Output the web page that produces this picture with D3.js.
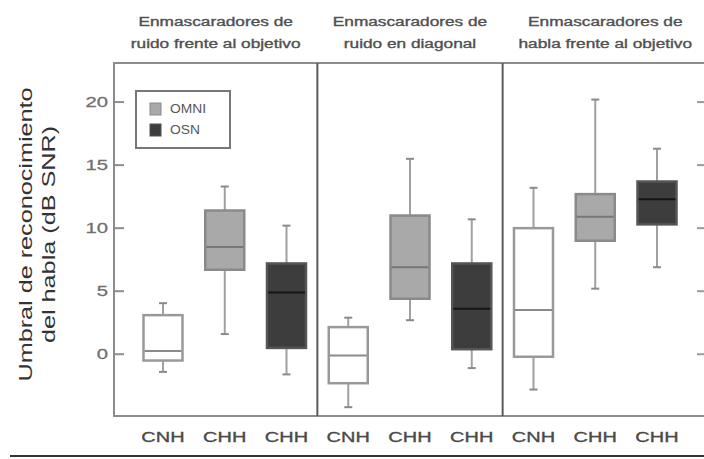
<!DOCTYPE html>
<html lang="es">
<head>
<meta charset="UTF-8">
<title>Umbral de reconocimiento del habla</title>
<script src="https://d3js.org/d3.v7.min.js"></script>
<style>
    html, body { margin: 0; padding: 0; background: #fff; }
    svg { display: block; font-family: "Liberation Sans", Arial, sans-serif; }
</style>
</head>
<body>
<div id="chart"></div>
<script>
// panel titles (two lines each)
const panelTitles = [
    ["Enmascaradores de", "ruido frente al objetivo"],
    ["Enmascaradores de", "ruido en diagonal"],
    ["Enmascaradores de", "habla frente al objetivo"]
];
// one box per category, three per panel
const categories = ["CNH", "CHH", "CHH", "CNH", "CHH", "CHH", "CNH", "CHH", "CHH"];
const groups = ["CNH", "OMNI", "OSN", "CNH", "OMNI", "OSN", "CNH", "OMNI", "OSN"];
const whiskerLow = [-1.4, 1.6, -1.6, -4.2, 2.7, -1.1, -2.8, 5.2, 6.9];
const q1 = [-0.5, 6.7, 0.5, -2.3, 4.4, 0.4, -0.2, 9.0, 10.3];
const median = [0.25, 8.5, 4.9, -0.1, 6.9, 3.6, 3.5, 10.9, 12.3];
const q3 = [3.1, 11.4, 7.2, 2.15, 11.0, 7.2, 10.0, 12.7, 13.7];
const whiskerHigh = [4.05, 13.3, 10.2, 2.9, 15.5, 10.7, 13.2, 20.2, 16.3];
const yTicks = [0, 5, 10, 15, 20];
const legendItems = ["OMNI", "OSN"];

const W = 704, H = 459;
const pLeft = 114, pRight = 708, pTop = 63, pBottom = 416;
const boxW = 39;

const fill = { CNH: "#fff", OMNI: "#a9a9a9", OSN: "#3d3d3d" };
const edge = { CNH: "#999", OMNI: "#8a8a8a", OSN: "#555" };
const medColor = { CNH: "#8a8a8a", OMNI: "#777", OSN: "#151515" };

const ids = categories.map((c, i) => i);
const data = ids.map(i => ({
    i: i, cat: categories[i], grp: groups[i],
    lo: whiskerLow[i], q1: q1[i], med: median[i], q3: q3[i], hi: whiskerHigh[i]
}));

const x = d3.scalePoint().domain(ids).range([pLeft + 49, pLeft + 543]);
const y = d3.scaleLinear().domain([-4.9, 23.1]).range([pBottom, pTop]);

const svg = d3.select("#chart").append("svg")
    .attr("width", W)
    .attr("height", H);

// widen text like the original's broad face
function stretch(sel, k) {
    sel.each(function () {
        const len = this.getComputedTextLength();
        d3.select(this).attr("textLength", len * k).attr("lengthAdjust", "spacingAndGlyphs");
    });
}

// frame
svg.append("rect")
    .attr("x", pLeft).attr("y", pTop)
    .attr("width", pRight - pLeft).attr("height", pBottom - pTop)
    .attr("fill", "none").attr("stroke", "#8c8c8c").attr("stroke-width", 2);

// panel dividers
const splits = [(x(2) + x(3)) / 2, (x(5) + x(6)) / 2];
svg.selectAll("line.split")
    .data(splits)
    .enter().append("line")
    .attr("class", "split")
    .attr("x1", d => d).attr("x2", d => d)
    .attr("y1", pTop).attr("y2", pBottom)
    .attr("stroke", "#5a5a5a").attr("stroke-width", 2);

// axis ticks (inward) and labels
svg.selectAll("line.ytick")
    .data(yTicks)
    .enter().append("line")
    .attr("x1", pLeft).attr("x2", pLeft + 10)
    .attr("y1", d => y(d)).attr("y2", d => y(d))
    .attr("stroke", "#8c8c8c").attr("stroke-width", 2);

svg.selectAll("line.ytickR")
    .data(yTicks)
    .enter().append("line")
    .attr("x1", pRight - 11).attr("x2", pRight)
    .attr("y1", d => y(d)).attr("y2", d => y(d))
    .attr("stroke", "#9a9a9a").attr("stroke-width", 2);

svg.selectAll("text.ylab")
    .data(yTicks)
    .enter().append("text")
    .attr("x", pLeft - 6).attr("y", d => y(d))
    .attr("dy", "0.35em")
    .attr("text-anchor", "end")
    .attr("font-size", 15)
    .attr("fill", "#707070")
    .attr("stroke", "#707070").attr("stroke-width", 0.3)
    .text(d => d)
    .call(stretch, 1.35);

// y axis title
const yTitle = svg.append("g")
    .attr("transform", `translate(0,${(pTop + pBottom) / 2 - 5}) rotate(-90)`);
yTitle.selectAll("text")
    .data(["Umbral de reconocimiento", "del habla (dB SNR)"])
    .enter().append("text")
    .attr("x", 0)
    .attr("y", (d, i) => 32 + i * 23)
    .attr("text-anchor", "middle")
    .attr("font-size", 18)
    .attr("fill", "#333")
    .text(d => d)
    .call(stretch, 1.4);

// panel titles
const panelCenters = [(pLeft + splits[0]) / 2, (splits[0] + splits[1]) / 2, (splits[1] + pRight) / 2];
panelTitles.forEach((lines, p) => {
    svg.selectAll(null)
        .data(lines)
        .enter().append("text")
        .attr("x", panelCenters[p])
        .attr("y", (d, i) => 26 + i * 22)
        .attr("text-anchor", "middle")
        .attr("font-size", 12.5)
        .attr("fill", "#505050")
        .attr("stroke", "#505050").attr("stroke-width", 0.35)
        .text(d => d)
        .call(stretch, 1.38);
});

// boxes
const box = svg.selectAll("g.box")
    .data(data)
    .enter().append("g")
    .attr("class", "box");

box.append("line")
    .attr("x1", d => x(d.i)).attr("x2", d => x(d.i))
    .attr("y1", d => y(d.hi)).attr("y2", d => y(d.lo))
    .attr("stroke", "#a0a0a0").attr("stroke-width", 2);

box.selectAll("line.cap")
    .data(d => [d.lo, d.hi].map(v => ({ v: v, i: d.i })))
    .enter().append("line")
    .attr("class", "cap")
    .attr("x1", d => x(d.i) - 4).attr("x2", d => x(d.i) + 4)
    .attr("y1", d => y(d.v)).attr("y2", d => y(d.v))
    .attr("stroke", "#8a8a8a").attr("stroke-width", 2);

box.append("rect")
    .attr("x", d => x(d.i) - boxW / 2)
    .attr("y", d => y(d.q3))
    .attr("width", boxW)
    .attr("height", d => y(d.q1) - y(d.q3))
    .attr("fill", d => fill[d.grp])
    .attr("stroke", d => edge[d.grp])
    .attr("stroke-width", 2.5);

box.append("line")
    .attr("x1", d => x(d.i) - boxW / 2 + 1).attr("x2", d => x(d.i) + boxW / 2 - 1)
    .attr("y1", d => y(d.med)).attr("y2", d => y(d.med))
    .attr("stroke", d => medColor[d.grp]).attr("stroke-width", 2);

// category labels
svg.selectAll("text.cat")
    .data(data)
    .enter().append("text")
    .attr("class", "cat")
    .attr("x", d => x(d.i))
    .attr("y", pBottom + 26)
    .attr("text-anchor", "middle")
    .attr("font-size", 15)
    .attr("fill", "#4a4a4a")
    .attr("stroke", "#4a4a4a").attr("stroke-width", 0.35)
    .text(d => d.cat)
    .call(stretch, 1.33);

// legend
const lg = svg.append("g").attr("transform", "translate(136,91)");
lg.append("rect")
    .attr("width", 94).attr("height", 57)
    .attr("fill", "#fff").attr("stroke", "#777").attr("stroke-width", 2);
const li = lg.selectAll("g.item")
    .data(legendItems)
    .enter().append("g")
    .attr("transform", (d, i) => `translate(14,${12 + i * 21})`);
li.append("rect")
    .attr("width", 11).attr("height", 12)
    .attr("fill", d => fill[d])
    .attr("stroke", d => edge[d]).attr("stroke-width", 1);
li.append("text")
    .attr("x", 20).attr("y", 6)
    .attr("dy", "0.35em")
    .attr("font-size", 12)
    .attr("fill", "#555")
    .text(d => d)
    .call(stretch, 1.15);

// bottom rule
svg.append("line")
    .attr("x1", 10).attr("x2", W)
    .attr("y1", 456).attr("y2", 456)
    .attr("stroke", "#333").attr("stroke-width", 2);
</script>
</body>
</html>
